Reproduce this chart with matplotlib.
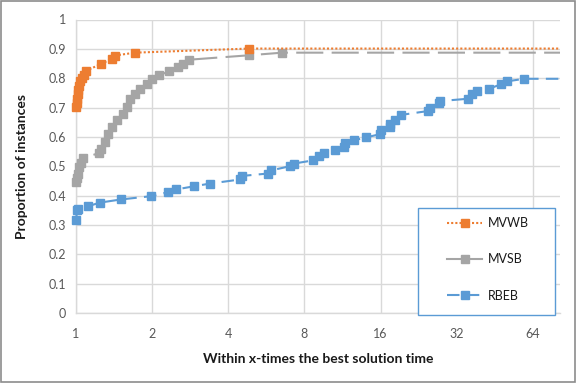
import matplotlib
matplotlib.use("Agg")
import matplotlib.pyplot as plt
from matplotlib.patches import Rectangle
from matplotlib.ticker import FixedLocator, FixedFormatter, NullLocator

XMAX = 82.0

mvwb_x = [1.00, 1.005, 1.01, 1.015, 1.02, 1.03, 1.04, 1.06, 1.08, 1.10, 1.26, 1.385, 1.42, 1.71, 4.84, XMAX]
mvwb_y = [0.702, 0.715, 0.73, 0.745, 0.76, 0.775, 0.79, 0.80, 0.812, 0.826, 0.849, 0.866, 0.877, 0.887, 0.901, 0.901]

mvsb_x = [1.00, 1.01, 1.02, 1.03, 1.05, 1.07, 1.23, 1.26, 1.30, 1.34, 1.385, 1.45, 1.54, 1.59, 1.64,
          1.71, 1.79, 1.905, 1.99, 2.12, 2.34, 2.54, 2.66, 2.80, 4.82, 6.53, XMAX]
mvsb_y = [0.447, 0.46, 0.475, 0.497, 0.51, 0.527, 0.545, 0.56, 0.583, 0.611, 0.634, 0.656, 0.679, 0.702, 0.730,
          0.747, 0.764, 0.781, 0.798, 0.81, 0.823, 0.838, 0.85, 0.863, 0.878, 0.887, 0.887]

rbeb_x = [1.00, 1.01, 1.015, 1.12, 1.24, 1.51, 1.98, 2.32, 2.49, 2.94, 3.39, 4.46, 4.53, 5.72, 5.92,
          7.0, 7.26, 8.66, 9.17, 9.54, 10.56, 11.52, 11.55, 12.54, 13.96, 15.9, 16.0, 17.37, 17.5,
          18.2, 19.3, 24.6, 25.0, 27.2, 27.5, 35.5, 36.9, 38.6, 43.0, 47.8, 50.5, 59.1, XMAX]
rbeb_y = [0.316, 0.350, 0.355, 0.364, 0.376, 0.387, 0.398, 0.412, 0.421, 0.432, 0.441, 0.455, 0.467, 0.475, 0.486,
          0.500, 0.509, 0.520, 0.535, 0.545, 0.554, 0.566, 0.579, 0.588, 0.598, 0.609, 0.622, 0.634, 0.645,
          0.659, 0.675, 0.688, 0.700, 0.715, 0.722, 0.730, 0.745, 0.755, 0.764, 0.779, 0.789, 0.798, 0.798]

series_names = ["MVWB", "MVSB", "RBEB"]
x_ticks = [1, 2, 4, 8, 16, 32, 64]
x_tick_labels = ["1", "2", "4", "8", "16", "32", "64"]
y_ticks = [i / 10 for i in range(11)]
y_tick_labels = ["0", "0.1", "0.2", "0.3", "0.4", "0.5", "0.6", "0.7", "0.8", "0.9", "1"]

plt.rcParams['font.family'] = ['Lato', 'DejaVu Sans']

W, H = 577, 384
fig = plt.figure(figsize=(W / 100, H / 100), dpi=100)
fig.patches.append(Rectangle((0.002, 0.004), 0.995, 0.993, transform=fig.transFigure,
                             fill=False, edgecolor='#8c8c8c', linewidth=1.2))
ax = fig.add_axes([76 / W, 1 - 313 / H, (560 - 76) / W, (313 - 19.5) / H])

ax.set_xscale('log', base=2)
ax.set_xlim(1, XMAX)
ax.set_ylim(0, 1)

orange = '#ED7D31'
gray = '#A5A5A5'
blue = '#5B9BD5'

l1, = ax.plot(mvwb_x, mvwb_y, color=orange, lw=1.5, dashes=(1, 1), marker='s', ms=5.5,
              markevery=list(range(len(mvwb_x) - 1)), clip_on=False, label=series_names[0], zorder=5)
l2, = ax.plot(mvsb_x, mvsb_y, color=gray, lw=1.5, dashes=(13, 4), marker='s', ms=5.5,
              markevery=list(range(len(mvsb_x) - 1)), clip_on=False, label=series_names[1], zorder=4)
l3, = ax.plot(rbeb_x, rbeb_y, color=blue, lw=1.5, dashes=(6, 3.5), marker='s', ms=5.5,
              markevery=list(range(len(rbeb_x) - 1)), clip_on=False, label=series_names[2], zorder=3)

ax.xaxis.set_major_locator(FixedLocator(x_ticks))
ax.xaxis.set_major_formatter(FixedFormatter(x_tick_labels))
ax.xaxis.set_minor_locator(NullLocator())
ax.set_yticks(y_ticks)
ax.set_yticklabels(y_tick_labels)

ax.grid(True, color='#d9d9d9', lw=1)
ax.set_axisbelow(True)
for s in ['top', 'right']:
    ax.spines[s].set_visible(False)
for s in ['left', 'bottom']:
    ax.spines[s].set_color('#d9d9d9')
    ax.spines[s].set_linewidth(1)
ax.tick_params(axis='x', length=0, labelsize=9, labelcolor='#595959', pad=11)
ax.tick_params(axis='y', length=0, labelsize=9, labelcolor='#595959', pad=7)

ax.set_xlabel("Within x-times the best solution time", fontsize=10, fontweight='bold', color='#1a1a1a', labelpad=9)
ax.set_ylabel("Proportion of instances", fontsize=10, fontweight='bold', color='#1a1a1a', labelpad=15)

# legend frame
fig.patches.append(Rectangle((418 / W, 1 - 315 / H), (555 - 418) / W, (315 - 208) / H,
                             transform=fig.transFigure, fill=True, facecolor='white',
                             edgecolor=blue, linewidth=1, zorder=10))
leg = fig.legend(handles=[l1, l2, l3], loc='upper left',
                 bbox_to_anchor=(447 / W, 1 - 217 / H), fontsize=9,
                 frameon=False, labelspacing=1.95,
                 handlelength=2.8, handletextpad=0.45, borderpad=0, borderaxespad=0)
leg.set_zorder(11)
leg.get_lines()[1].set_dashes((None, None))
leg.get_lines()[1].set_linestyle('-')
for t in leg.get_texts():
    t.set_color('#1a1a1a')

fig.savefig("out.png", dpi=100)
